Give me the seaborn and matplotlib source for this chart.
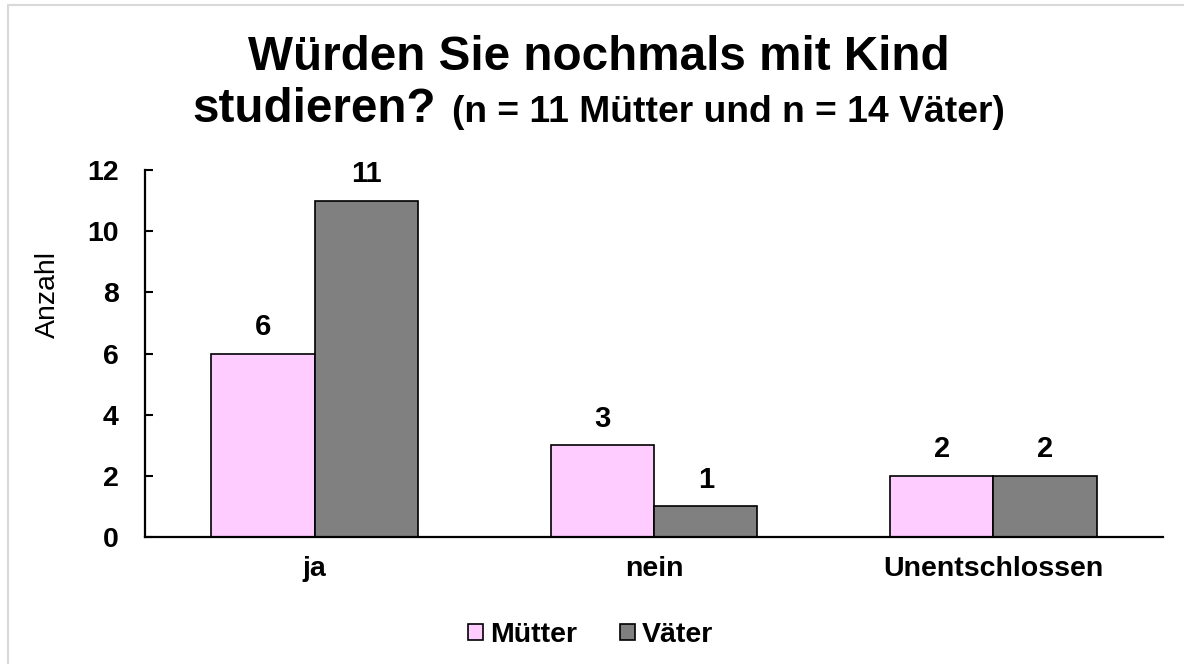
import pandas as pd
import matplotlib.pyplot as plt
import seaborn as sns
from matplotlib.patches import Patch, Rectangle

sns.set_theme(style="white", rc={"text.color": "black",
                                 "axes.labelcolor": "black",
                                 "xtick.color": "black",
                                 "ytick.color": "black"})
plt.rcParams['font.family'] = ['Liberation Sans', 'DejaVu Sans']

# DATA
categories = ["ja", "nein", "Unentschlossen"]
muetter = [6, 3, 2]
vaeter = [11, 1, 2]
groups = ["Mütter", "Väter"]
colors = ["#FFCCFF", "#808080"]

df = pd.DataFrame({
    "Antwort": categories * 2,
    "Anzahl": muetter + vaeter,
    "Gruppe": [groups[0]] * 3 + [groups[1]] * 3,
})

fig = plt.figure(figsize=(11.84, 6.64), dpi=100)
ax = fig.add_axes([145 / 1184, 1 - 537 / 664, 1018 / 1184, 367 / 664])

sns.barplot(data=df, x="Antwort", y="Anzahl", hue="Gruppe",
            palette=colors, width=0.61, edgecolor="black", linewidth=1.2,
            saturation=1, legend=False, ax=ax)

for c in ax.containers:
    ax.bar_label(c, fontsize=21, fontweight='bold', padding=9, color="black")

ax.set_xlim(-0.5, 2.5)
ax.set_ylim(0, 12)
ax.set_yticks(range(0, 13, 2))
ax.set_xlabel("")
ax.set_ylabel("Anzahl", fontsize=20.5, color="black")
ax.yaxis.set_label_coords(-0.083, 0.662)

for side in ["top", "right"]:
    ax.spines[side].set_visible(False)
for side in ["left", "bottom"]:
    ax.spines[side].set_color("black")
    ax.spines[side].set_linewidth(1.6)

ax.tick_params(axis='y', direction='in', length=6, width=1.5, pad=19,
               labelsize=20.5, left=True, colors="black")
ax.tick_params(axis='x', length=0, pad=14, labelsize=20.5, colors="black")
for lbl in ax.get_xticklabels() + ax.get_yticklabels():
    lbl.set_fontweight('bold')

# TITLE
fig.text(599 / 1184, 1 - 70 / 664, "Würden Sie nochmals mit Kind",
         ha='center', va='baseline', fontsize=34.3, fontweight='bold')
fig.text(436 / 1184, 1 - 122 / 664, "studieren?",
         ha='right', va='baseline', fontsize=34.3, fontweight='bold')
fig.text(452 / 1184, 1 - 122 / 664, "(n = 11 Mütter und n = 14 Väter)",
         ha='left', va='baseline', fontsize=26.8, fontweight='bold')

# LEGEND
handles = [Patch(facecolor=colors[i], edgecolor="black", linewidth=1.2,
                 label=groups[i]) for i in range(2)]
leg = fig.legend(handles=handles, loc='center', bbox_to_anchor=(0.499, 0.0437),
                 ncol=2, frameon=False, handlelength=0.52, handleheight=0.52,
                 handletextpad=0.25, columnspacing=1.5,
                 prop={'size': 20.5, 'weight': 'bold'})
for t in leg.get_texts():
    t.set_color("black")

# FRAME
fig.patches.append(Rectangle((8 / 1184, -0.02), 1.05, 1 - 5 / 664 + 0.02,
                             transform=fig.transFigure, fill=False,
                             edgecolor="#d9d9d9", linewidth=1.5))

fig.savefig("out.png", dpi=100, facecolor="white")
